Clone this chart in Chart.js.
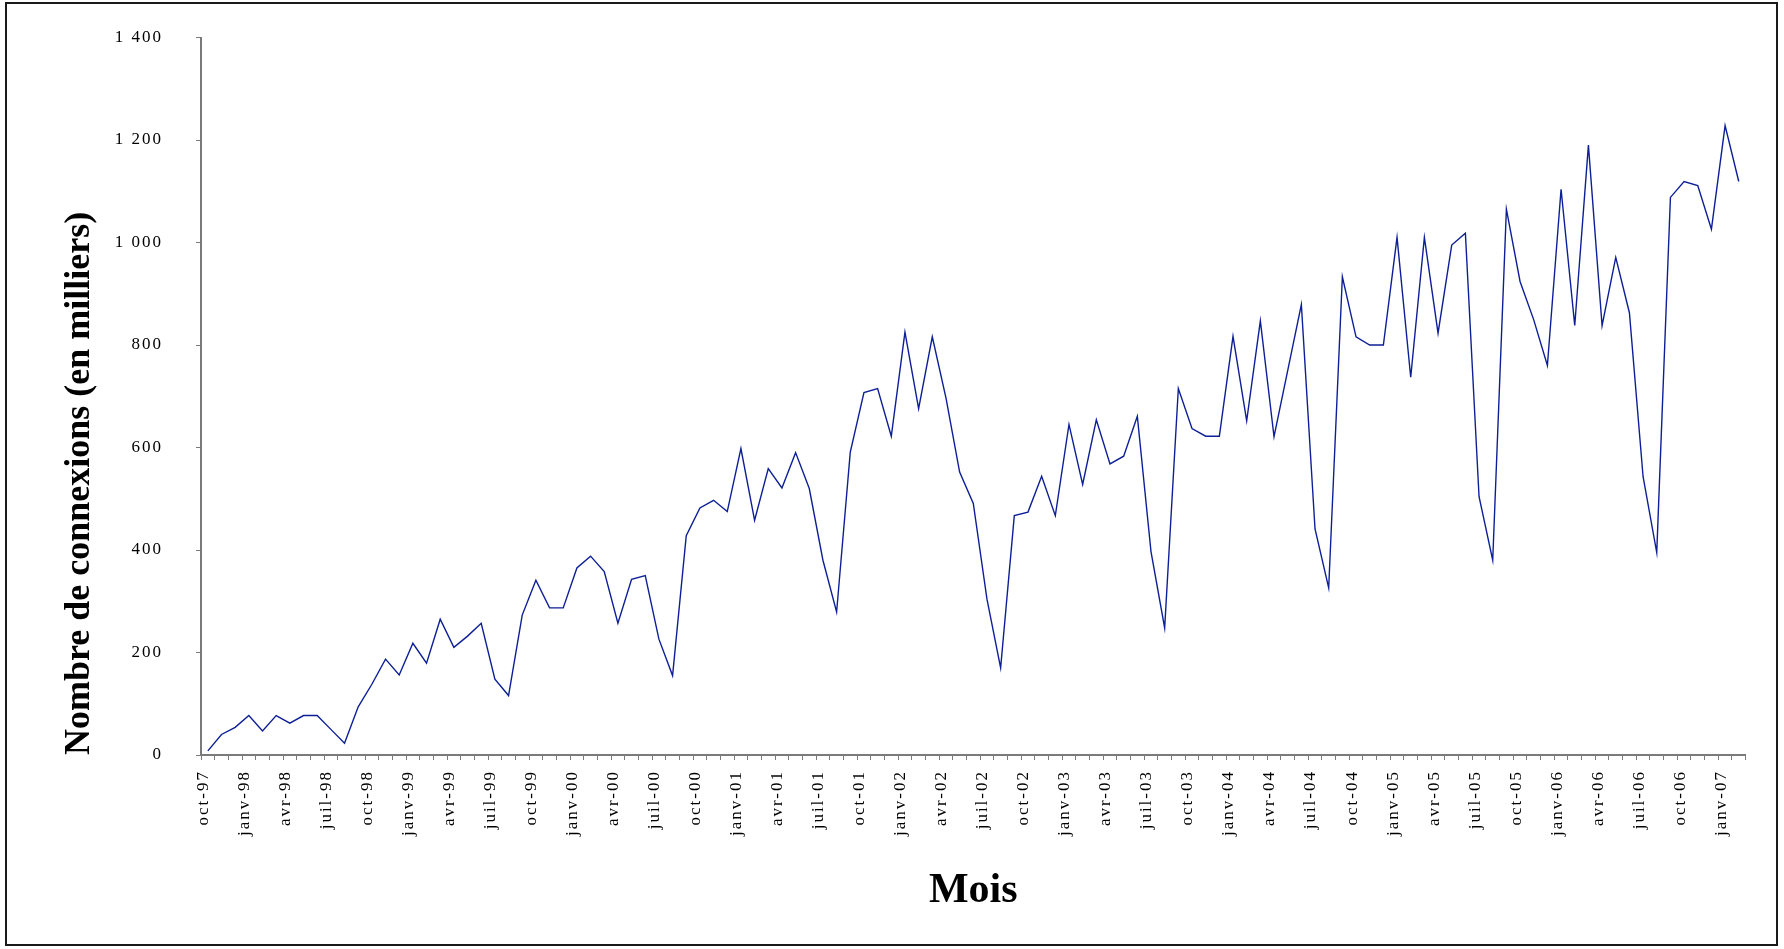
<!DOCTYPE html>
<html lang="fr">
<head>
<meta charset="UTF-8">
<title>Nombre de connexions</title>
<script src="https://cdn.jsdelivr.net/npm/chart.js"></script>
<style>
  body { margin: 0; background: #fff; overflow: hidden; }
  canvas { position: absolute; left: 0; top: 0; }
  .frame { position: absolute; left: 5px; top: 2px; width: 1773px; height: 944px;
           border: 2px solid #1a1a1a; box-sizing: border-box; pointer-events: none; }
</style>
</head>
<body>
<canvas id="chart" width="1784" height="949"></canvas>
<div class="frame"></div>
<script>
// mois, oct-97 -> févr-07
const months = [
  'oct-97','nov-97','déc-97',
  'janv-98','févr-98','mars-98','avr-98','mai-98','juin-98','juil-98','août-98','sept-98','oct-98','nov-98','déc-98',
  'janv-99','févr-99','mars-99','avr-99','mai-99','juin-99','juil-99','août-99','sept-99','oct-99','nov-99','déc-99',
  'janv-00','févr-00','mars-00','avr-00','mai-00','juin-00','juil-00','août-00','sept-00','oct-00','nov-00','déc-00',
  'janv-01','févr-01','mars-01','avr-01','mai-01','juin-01','juil-01','août-01','sept-01','oct-01','nov-01','déc-01',
  'janv-02','févr-02','mars-02','avr-02','mai-02','juin-02','juil-02','août-02','sept-02','oct-02','nov-02','déc-02',
  'janv-03','févr-03','mars-03','avr-03','mai-03','juin-03','juil-03','août-03','sept-03','oct-03','nov-03','déc-03',
  'janv-04','févr-04','mars-04','avr-04','mai-04','juin-04','juil-04','août-04','sept-04','oct-04','nov-04','déc-04',
  'janv-05','févr-05','mars-05','avr-05','mai-05','juin-05','juil-05','août-05','sept-05','oct-05','nov-05','déc-05',
  'janv-06','févr-06','mars-06','avr-06','mai-06','juin-06','juil-06','août-06','sept-06','oct-06','nov-06','déc-06',
  'janv-07','févr-07'
];

// nombre de connexions, en milliers
const connexions = [
  8, 40, 54,
  77, 47, 77, 62, 77, 77, 50, 23, 94, 138, 187, 156,
  218, 179, 265, 210, 232, 257, 148, 116, 273, 341, 287, 287,
  365, 388, 358, 257, 343, 350, 226, 155, 428, 482, 497, 475,
  598, 458, 559, 521, 590, 520, 380, 279, 591, 707, 715, 622,
  825, 676, 816, 697, 552, 491, 304, 170, 467, 474, 544, 467,
  645, 528, 654, 568, 583, 661, 397, 248, 715, 637, 622, 622,
  817, 652, 847, 621, 750, 879, 441, 326, 933, 816, 800, 800,
  1010, 737, 1010, 823, 995, 1018, 504, 380, 1065, 924, 849, 760,
  1104, 838, 1190, 838, 971, 863, 543, 395, 1088, 1119, 1111, 1026,
  1228, 1119
];

const yMin = 0;
const yMax = 1400;
const yStep = 200;
const labelEvery = 3;   // un libellé tous les trimestres

const axisColor = '#7a7a7a';
const serif = "'Liberation Serif', 'Times New Roman', serif";

// lettres espacées pour les graduations seulement (titres dessinés avant les courbes, graduations après)
const spacing = {
  id: 'spacing',
  beforeUpdate(chart) { chart.ctx.letterSpacing = '2px'; },
  beforeDraw(chart) { chart.ctx.letterSpacing = '0px'; },
  afterDatasetsDraw(chart) { chart.ctx.letterSpacing = '2px'; }
};

function thousands(v) {
  return String(v).replace(/\B(?=(\d{3})+(?!\d))/g, ' ');
}

new Chart(document.getElementById('chart'), {
  type: 'line',
  data: {
    labels: months,
    datasets: [{
      data: connexions,
      borderColor: '#0d1f96',
      borderWidth: 1.4,
      pointRadius: 0,
      tension: 0,
      fill: false
    }]
  },
  options: {
    responsive: false,
    animation: false,
    devicePixelRatio: 1,
    layout: { padding: { left: 0, top: 37.5, right: 38.4, bottom: 0 } },
    plugins: { legend: { display: false }, tooltip: { enabled: false } },
    scales: {
      x: {
        type: 'category',
        offset: true,
        grid: { offset: true, drawOnChartArea: false, drawTicks: true, tickLength: 5, color: axisColor, lineWidth: 1 },
        border: { display: true, color: axisColor, width: 2 },
        ticks: {
          z: 1, autoSkip: false, minRotation: 90, maxRotation: 90, padding: 10, labelOffset: -4,
          color: '#000', font: { family: serif, size: 17 },
          callback: (v, i) => i % labelEvery === 0 ? months[i] : ''
        },
        title: {
          display: true, text: 'Mois', color: '#000',
          font: { family: serif, size: 42, weight: 'bold' },
          padding: { top: 0, bottom: 33 }
        },
        afterFit(scale) { scale.height = 194; }
      },
      y: {
        min: yMin, max: yMax,
        grid: { drawOnChartArea: false, drawTicks: true, tickLength: 5, color: axisColor, lineWidth: 1 },
        border: { display: true, color: axisColor, width: 2 },
        ticks: {
          z: 1, stepSize: yStep, padding: 33, color: '#000',
          font: { family: serif, size: 17, lineHeight: 0.5 },
          callback: v => thousands(v)
        },
        title: {
          display: true, text: 'Nombre de connexions (en milliers)', color: '#000', align: 'start',
          font: { family: serif, size: 36, weight: 'bold' },
          padding: { top: 58, bottom: 0 }
        },
        afterFit(scale) { scale.width = 201; }
      }
    }
  },
  plugins: [spacing]
});
</script>
</body>
</html>
